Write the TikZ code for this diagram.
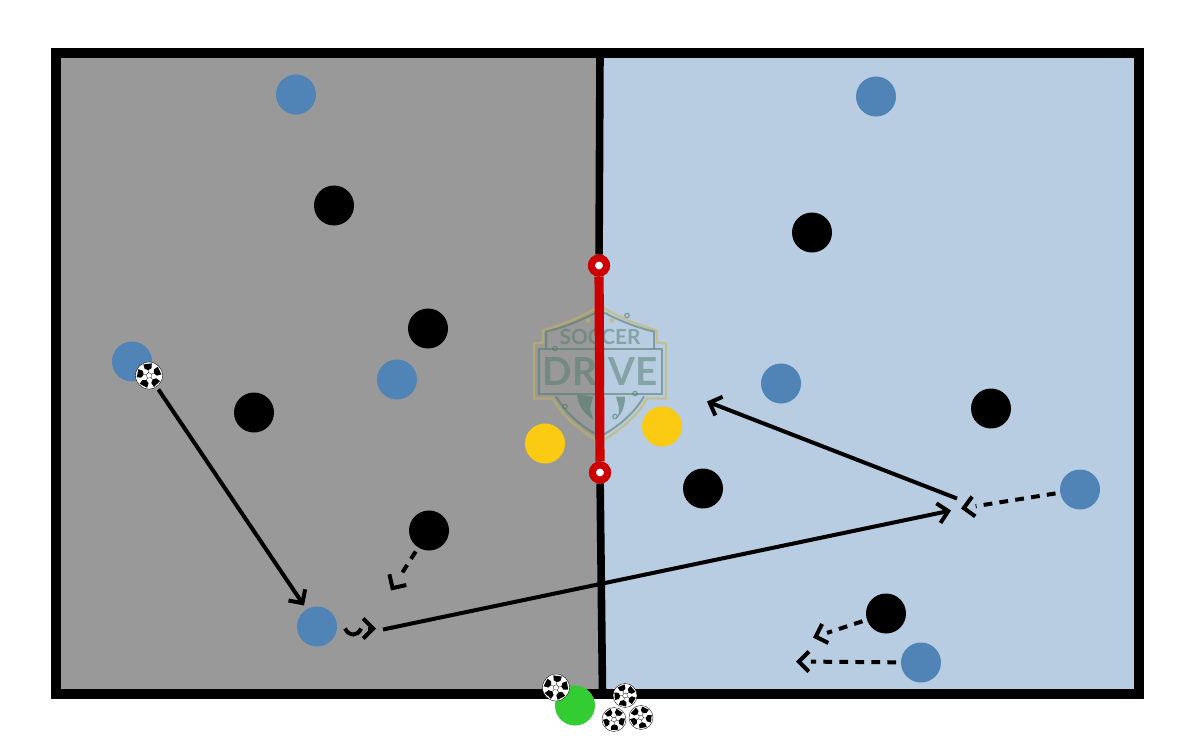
\documentclass[tikz,border=0pt]{standalone}
\usepackage{fontspec}
\setsansfont{Lato}
\usetikzlibrary{arrows.meta,shapes.geometric}
\definecolor{FieldGray}{HTML}{999999}
\definecolor{FieldBlue}{HTML}{B8CDE1}
\definecolor{TeamBlue}{HTML}{5083B6}
\definecolor{Cone}{HTML}{FBCB14}
\definecolor{Keeper}{HTML}{33CC33}
\definecolor{GoalRed}{HTML}{CC0000}
\definecolor{LogoGold}{HTML}{C8B45A}
\definecolor{LogoInk}{HTML}{4F7A6C}
\tikzset{
  player/.style={circle, minimum size=1cm, inner sep=0pt, outer sep=1.2mm, fill=#1},
  cone/.style={circle, minimum size=1cm, inner sep=0pt, fill=#1},
  post/.style={circle, draw=GoalRed, fill=white, line width=1.75mm, minimum size=3.75mm, inner sep=0pt},
  ball/.style n args={2}{circle, draw=black, fill=white, line width=0.25pt,
    minimum size=#1cm, inner sep=0pt, outer sep=0.8mm, path picture={
    \begin{scope}[shift={(path picture bounding box.center)}, x=#1cm, y=#1cm]
      \foreach \a in {0,72,144,216,288}{
        \pgfmathsetmacro{\t}{\a+#2}
        \fill[black] (\t:.2) -- (\t+26:.29) -- (\t+20:.46) -- (\t-20:.46) -- (\t-26:.29) -- cycle;
        \draw[black, line width=0.2pt] (\t:.2) -- (\t:.11) -- (\t+72:.11);
      }
    \end{scope}}},
  fieldline/.style={line width=1.9mm, draw=black},
  run/.style={line width=1mm, draw=black, -{Straight Barb[length=2.5mm,width=5mm]}},
  move/.style={line width=1mm, draw=black, dash pattern=on 2.2mm off 1.8mm,
    -{.[sep=1.5mm] Straight Barb[length=2.5mm,width=5mm]}},
}

\begin{document}
\begin{tikzpicture}[x=0.025cm, y=-0.025cm,
  logoline/.style={draw=LogoInk, line width=0.5mm, opacity=0.55},
  logogold/.style={draw=LogoGold, line width=0.6mm, opacity=0.55},
  logotext/.style={text=LogoInk, text opacity=0.5, inner sep=0pt},
  logodot/.style={circle, draw=LogoInk, line width=0.3mm, opacity=0.6, minimum size=1.1mm, inner sep=0pt},
]
\useasboundingbox (0,-0.5) rectangle (1200,749.5);
% ===================== field
\fill[FieldGray] (56,52) rectangle (600,693);
\fill[FieldBlue] (600,52) rectangle (1139,693);
% ===================== logo
\draw[logogold] (600,305) .. controls (580,318) and (560,325) .. (543,330) -- (543,342) -- (534,343)
  -- (534,398) -- (553,398) .. controls (565,420) and (585,432) .. (600,442)
  .. controls (615,432) and (635,420) .. (647,398) -- (666,398) -- (666,343) -- (657,342) -- (657,330)
  .. controls (640,325) and (620,318) .. (600,305);
\draw[logoline] (546,348) -- (546,331) .. controls (565,327) and (585,318) .. (600,310)
  .. controls (615,318) and (635,327) .. (654,331) -- (654,348);
\draw[logoline] (539,348) rectangle (662,393);
\draw[logoline] (556,396) .. controls (568,416) and (585,428) .. (600,436)
  .. controls (615,428) and (632,416) .. (644,396);
\fill[LogoInk, opacity=0.6] (577,394) .. controls (578,405) and (584,413) .. (593,419) -- (590,408) -- (593,396) -- cycle;
\fill[LogoInk, opacity=0.6] (616,396) .. controls (618,405) and (622,410) .. (616,418) .. controls (622,414) and (625,405) .. (625,396) -- cycle;
\node[star, star points=5, star point ratio=2.2, fill=LogoGold, opacity=0.7, minimum size=1.6mm, inner sep=0pt] (starL) at (588,320) {};
\node[star, star points=5, star point ratio=2.2, fill=LogoGold, opacity=0.7, minimum size=1.6mm, inner sep=0pt] (starR) at (612,320) {};
\node[logotext, font=\sffamily\bfseries\fontsize{14.8}{15}\selectfont] (soccer) at (600,336) {SOCCER};
\node[logotext, font=\sffamily\bfseries\fontsize{27.5}{28}\selectfont] (drive) at (600,371) {DRIVE};
\foreach \n/\x/\y in {a/555/348, b/627/315, c/635/393, d/565/406, e/615/416}{
  \node[logodot] (dot\n) at (\x,\y) {};
}
% ===================== frame and halfway line
\draw[line width=2.5mm, draw=black] (56,52) rectangle (1139,693);
\coordinate (midT) at (600,52);
\coordinate (midB) at (602.5,693);
\node[post] (postT) at (599,265) {};
\node[post] (postB) at (600,472) {};
\draw[fieldline] (midT) -- (postT);
\draw[fieldline] (postB) -- (midB);
\draw[line width=2.3mm, draw=GoalRed] (postT) -- (postB);
\node[post] at (postT) {};
\node[post] at (postB) {};
% ===================== players
\foreach \n/\x/\y in {A/296/94, B/876/96, C/132/361, D/397/379, E/781/383, F/1080/489, G/317/626, H/921/662}{
  \node[player=TeamBlue] (blue\n) at (\x,\y) {};
}
\foreach \n/\x/\y in {A/334/205, B/812/232, C/428/328, D/254/412, E/991/408, F/703/488, G/429/530, H/886/613}{
  \node[player=black] (black\n) at (\x,\y) {};
}
\node[cone=Cone] (coneL) at (545,443) {};
\node[cone=Cone] (coneR) at (662,426) {};
\node[cone=Keeper] (keeper) at (575,705) {};
% ===================== balls
\node[ball={0.675}{25}] (ballA) at (149,375) {};
\node[ball={0.675}{10}] (ballB) at (556,687) {};
\node[ball={0.6}{40}] (ballC) at (625,695) {};
\node[ball={0.6}{-15}] (ballD) at (614,719) {};
\node[ball={0.6}{65}] (ballE) at (641,717) {};
% ===================== passes and runs
\coordinate (passEnd) at (304,605);
\coordinate (dribOut) at (345,628);
\coordinate (dribIn) at (361,628);
\coordinate (dribBase) at (368,628);
\coordinate (dribTip) at (376,628);
\coordinate (longStart) at (383,629);
\coordinate (longEnd) at (951,510);
\coordinate (backStart) at (957,498);
\coordinate (backEnd) at (707,401);
\coordinate (tipF) at (961,508);
\coordinate (tipG) at (391,590);
\coordinate (tipH) at (813,637);
\coordinate (tipJ) at (796,661);
\draw[run] (ballA) -- (passEnd);
\draw[line width=1mm] (dribOut) .. controls (349,636) and (358,636) .. (dribIn);
\draw[run] (dribBase) -- (dribTip);
\draw[run] (longStart) -- (longEnd);
\draw[run] (backStart) -- (backEnd);
\draw[move] (blueF) -- (tipF);
\draw[move] (blackG) -- (tipG);
\draw[move] (blackH) -- (tipH);
\draw[move] (blueH) -- (tipJ);
\end{tikzpicture}
\end{document}
